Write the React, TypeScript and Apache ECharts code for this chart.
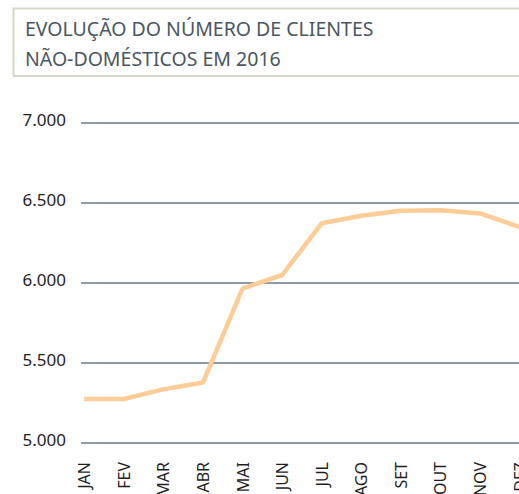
import React, { useEffect, useRef } from "react";
import * as echarts from "echarts";

const months = ["JAN", "FEV", "MAR", "ABR", "MAI", "JUN", "JUL", "AGO", "SET", "OUT", "NOV", "DEZ"];
const clients = [5275, 5275, 5335, 5378, 5965, 6050, 6373, 6420, 6452, 6455, 6435, 6350];
const titleLines = ["EVOLUÇÃO DO NÚMERO DE CLIENTES", "NÃO-DOMÉSTICOS EM 2016"];
const yMin = 5000;
const yMax = 7000;
const yStep = 500;

function fmt(v: number): string {
  const th = Math.floor(v / 1000);
  const rest = String(Math.round(v % 1000)).padStart(3, "0");
  return th + "." + rest;
}

export default function App() {
  const ref = useRef<HTMLDivElement>(null);
  useEffect(() => {
    if (!ref.current) return;
    const chart = echarts.init(ref.current, null, { renderer: "svg" });
    const font = "'Noto Sans', sans-serif";
    chart.setOption({
      animation: false,
      backgroundColor: "#ffffff",
      title: {
        text: titleLines.join("\n"),
        left: 20,
        top: 9,
        textStyle: {
          fontFamily: font,
          fontSize: 19.5,
          lineHeight: 29.5,
          fontWeight: "normal",
          color: "#4b5662",
        },
      },
      graphic: [
        {
          type: "rect",
          shape: { x: 13.5, y: 8.5, width: 530, height: 67.5 },
          style: { fill: "none", stroke: "#d5d7c6", lineWidth: 2 },
          silent: true,
        },
      ],
      grid: {
        left: 81,
        top: 123,
        width: 438.6,
        height: 320,
        outerBoundsMode: "none",
        containLabel: false,
      },
      xAxis: {
        type: "value",
        min: -0.08,
        max: 11,
        axisLine: { show: false },
        axisTick: { show: false },
        splitLine: { show: false },
        axisLabel: {
          customValues: months.map((_, i) => i),
          formatter: (v: number) => months[Math.round(v)] ?? "",
          rotate: 90,
          margin: 19,
          hideOverlap: false,
          fontFamily: font,
          fontSize: 16,
          color: "#1f1f1f",
        },
      },
      yAxis: {
        type: "value",
        min: yMin,
        max: yMax,
        interval: yStep,
        axisLine: { show: false },
        axisTick: { show: false },
        splitLine: { show: true, lineStyle: { color: "#8f9ba1", width: 2 } },
        axisLabel: {
          formatter: (v: number) => fmt(v),
          margin: 15,
          fontFamily: font,
          fontSize: 17,
          color: "#1f1f1f",
          verticalAlign: "bottom",
          lineHeight: 8,
        },
      },
      series: [
        {
          type: "line",
          data: clients.map((v, i) => [i, v]),
          symbol: "none",
          lineStyle: { color: "#fdcc97", width: 4.5 },
        },
      ],
    });
    return () => chart.dispose();
  }, []);
  return (
    <div
      ref={ref}
      style={{ position: "absolute", left: 0, top: 0, width: 519, height: 494 }}
    />
  );
}
